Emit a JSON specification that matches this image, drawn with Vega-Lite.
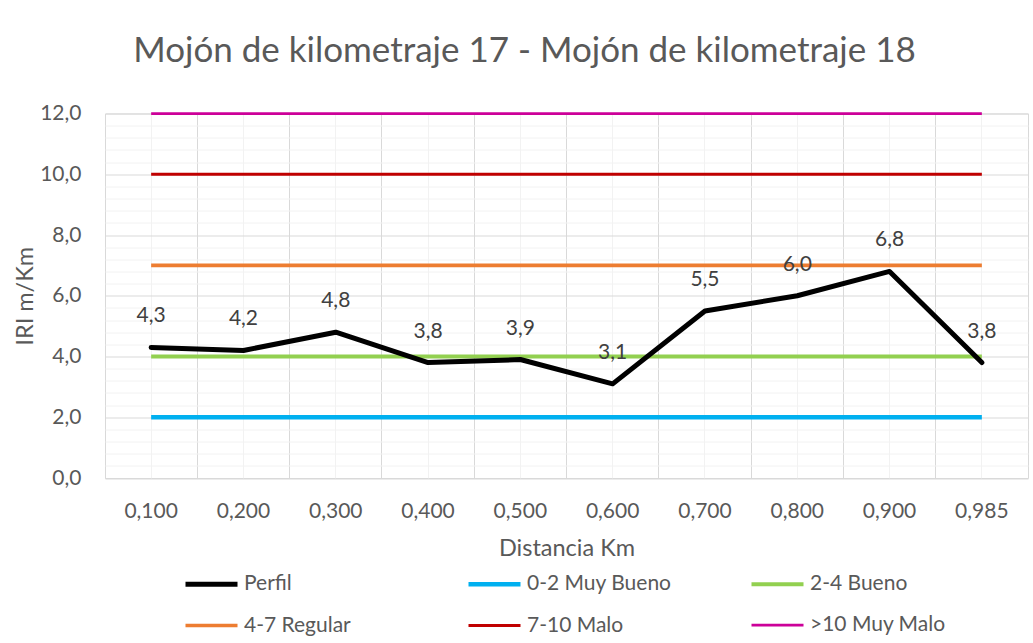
{
  "$schema": "https://vega.github.io/schema/vega-lite/v6.json",
  "width": 923,
  "height": 364.5,
  "autosize": {"type": "none"},
  "padding": {"left": 105, "top": 113.5, "right": 5, "bottom": 165},
  "background": "white",
  "title": {
    "text": "Mojón de kilometraje 17 - Mojón de kilometraje 18",
    "anchor": "middle",
    "frame": "group",
    "dx": -42,
    "offset": 34,
    "fontSize": 35,
    "font": "Lato",
    "fontWeight": "normal",
    "color": "#595959"
  },
  "config": {
    "locale": {"number": {"decimal": ",", "thousands": ".", "grouping": [3], "currency": ["", " €"]}},
    "font": "Lato",
    "view": {"stroke": "#d9d9d9", "strokeWidth": 1}
  },
  "datasets": {
    "perfil": [
      {"d": "0,100", "serie": "Perfil", "v": 4.3},
      {"d": "0,200", "serie": "Perfil", "v": 4.2},
      {"d": "0,300", "serie": "Perfil", "v": 4.8},
      {"d": "0,400", "serie": "Perfil", "v": 3.8},
      {"d": "0,500", "serie": "Perfil", "v": 3.9},
      {"d": "0,600", "serie": "Perfil", "v": 3.1},
      {"d": "0,700", "serie": "Perfil", "v": 5.5},
      {"d": "0,800", "serie": "Perfil", "v": 6.0},
      {"d": "0,900", "serie": "Perfil", "v": 6.8},
      {"d": "0,985", "serie": "Perfil", "v": 3.8}
    ],
    "limites": [
      {"d": "0,100", "serie": "0-2 Muy Bueno", "v": 2},
      {"d": "0,200", "serie": "0-2 Muy Bueno", "v": 2},
      {"d": "0,300", "serie": "0-2 Muy Bueno", "v": 2},
      {"d": "0,400", "serie": "0-2 Muy Bueno", "v": 2},
      {"d": "0,500", "serie": "0-2 Muy Bueno", "v": 2},
      {"d": "0,600", "serie": "0-2 Muy Bueno", "v": 2},
      {"d": "0,700", "serie": "0-2 Muy Bueno", "v": 2},
      {"d": "0,800", "serie": "0-2 Muy Bueno", "v": 2},
      {"d": "0,900", "serie": "0-2 Muy Bueno", "v": 2},
      {"d": "0,985", "serie": "0-2 Muy Bueno", "v": 2},
      {"d": "0,100", "serie": "2-4 Bueno", "v": 4},
      {"d": "0,200", "serie": "2-4 Bueno", "v": 4},
      {"d": "0,300", "serie": "2-4 Bueno", "v": 4},
      {"d": "0,400", "serie": "2-4 Bueno", "v": 4},
      {"d": "0,500", "serie": "2-4 Bueno", "v": 4},
      {"d": "0,600", "serie": "2-4 Bueno", "v": 4},
      {"d": "0,700", "serie": "2-4 Bueno", "v": 4},
      {"d": "0,800", "serie": "2-4 Bueno", "v": 4},
      {"d": "0,900", "serie": "2-4 Bueno", "v": 4},
      {"d": "0,985", "serie": "2-4 Bueno", "v": 4},
      {"d": "0,100", "serie": "4-7 Regular", "v": 7},
      {"d": "0,200", "serie": "4-7 Regular", "v": 7},
      {"d": "0,300", "serie": "4-7 Regular", "v": 7},
      {"d": "0,400", "serie": "4-7 Regular", "v": 7},
      {"d": "0,500", "serie": "4-7 Regular", "v": 7},
      {"d": "0,600", "serie": "4-7 Regular", "v": 7},
      {"d": "0,700", "serie": "4-7 Regular", "v": 7},
      {"d": "0,800", "serie": "4-7 Regular", "v": 7},
      {"d": "0,900", "serie": "4-7 Regular", "v": 7},
      {"d": "0,985", "serie": "4-7 Regular", "v": 7},
      {"d": "0,100", "serie": "7-10 Malo", "v": 10},
      {"d": "0,200", "serie": "7-10 Malo", "v": 10},
      {"d": "0,300", "serie": "7-10 Malo", "v": 10},
      {"d": "0,400", "serie": "7-10 Malo", "v": 10},
      {"d": "0,500", "serie": "7-10 Malo", "v": 10},
      {"d": "0,600", "serie": "7-10 Malo", "v": 10},
      {"d": "0,700", "serie": "7-10 Malo", "v": 10},
      {"d": "0,800", "serie": "7-10 Malo", "v": 10},
      {"d": "0,900", "serie": "7-10 Malo", "v": 10},
      {"d": "0,985", "serie": "7-10 Malo", "v": 10},
      {"d": "0,100", "serie": ">10 Muy Malo", "v": 12},
      {"d": "0,200", "serie": ">10 Muy Malo", "v": 12},
      {"d": "0,300", "serie": ">10 Muy Malo", "v": 12},
      {"d": "0,400", "serie": ">10 Muy Malo", "v": 12},
      {"d": "0,500", "serie": ">10 Muy Malo", "v": 12},
      {"d": "0,600", "serie": ">10 Muy Malo", "v": 12},
      {"d": "0,700", "serie": ">10 Muy Malo", "v": 12},
      {"d": "0,800", "serie": ">10 Muy Malo", "v": 12},
      {"d": "0,900", "serie": ">10 Muy Malo", "v": 12},
      {"d": "0,985", "serie": ">10 Muy Malo", "v": 12}
    ]
  },
  "resolve": {"axis": {"x": "independent", "y": "independent"}},
  "layer": [
    {
      "data": {"name": "limites"},
      "mark": {"type": "line", "strokeCap": "butt"},
      "encoding": {
        "x": {
          "field": "d", "type": "ordinal",
          "scale": {"type": "band", "paddingInner": 0, "paddingOuter": 0},
          "axis": {
            "orient": "bottom",
            "title": null,
            "labels": false,
            "ticks": false,
            "domain": false,
            "grid": true,
            "bandPosition": 0.5,
            "gridColor": "#f2f2f2",
            "gridWidth": 1
          }
        },
        "y": {
          "field": "v", "type": "quantitative",
          "scale": {"domain": [0, 12], "nice": false},
          "axis": {
            "orient": "left",
            "title": null,
            "values": [0.4, 0.8, 1.2, 1.6, 2.4, 2.8, 3.2, 3.6, 4.4, 4.8, 5.2, 5.6, 6.4, 6.8, 7.2, 7.6, 8.4, 8.8, 9.2, 9.6, 10.4, 10.8, 11.2, 11.6],
            "labels": false,
            "ticks": false,
            "domain": false,
            "grid": true,
            "gridColor": "#f2f2f2",
            "gridWidth": 1
          }
        },
        "color": {"field": "serie", "type": "nominal"},
        "strokeWidth": {"field": "serie", "type": "nominal"}
      }
    },
    {
      "data": {"name": "perfil"},
      "mark": {"type": "line", "strokeCap": "round", "strokeJoin": "round"},
      "encoding": {
        "x": {
          "field": "d", "type": "ordinal",
          "scale": {"type": "band", "paddingInner": 0, "paddingOuter": 0},
          "axis": {
            "orient": "bottom",
            "title": "Distancia Km",
            "titleFontSize": 23.5,
            "titleFontWeight": "normal",
            "titleColor": "#595959",
            "titlePadding": 15,
            "labelAngle": 0,
            "labelFontSize": 21,
            "labelColor": "#595959",
            "labelPadding": 22,
            "ticks": false,
            "domain": false,
            "grid": true,
            "bandPosition": 0,
            "gridColor": "#d9d9d9",
            "gridWidth": 1
          }
        },
        "y": {
          "field": "v", "type": "quantitative",
          "axis": {
            "orient": "left",
            "title": "IRI m/Km",
            "titleFontSize": 23.5,
            "titleFontWeight": "normal",
            "titleColor": "#595959",
            "titlePadding": 2,
            "values": [0, 2, 4, 6, 8, 10, 12],
            "format": ".1f",
            "labelFontSize": 21,
            "labelColor": "#595959",
            "labelPadding": 24,
            "ticks": false,
            "domain": false,
            "grid": true,
            "gridColor": "#d9d9d9",
            "gridWidth": 1
          }
        },
        "color": {
          "field": "serie", "type": "nominal",
          "scale": {
            "domain": ["Perfil", "0-2 Muy Bueno", "2-4 Bueno", "4-7 Regular", "7-10 Malo", ">10 Muy Malo"],
            "range": ["#000000", "#00B0F0", "#92D050", "#ED7D31", "#C00000", "#CC0099"]
          },
          "legend": {
            "title": null,
            "orient": "none",
            "legendX": 78,
            "legendY": 442,
            "direction": "horizontal",
            "columns": 3,
            "gridAlign": "all",
            "symbolType": "stroke",
            "symbolSize": 2704,
            "labelFontSize": 21,
            "labelColor": "#595959",
            "labelOffset": 4,
            "columnPadding": 70,
            "rowPadding": 3,
            "labelLimit": 300
          }
        },
        "strokeWidth": {
          "field": "serie", "type": "nominal",
          "scale": {
            "domain": ["Perfil", "0-2 Muy Bueno", "2-4 Bueno", "4-7 Regular", "7-10 Malo", ">10 Muy Malo"],
            "range": [5, 2.75, 2.75, 2.75, 2.75, 2.75]
          }
        }
      }
    },
    {
      "data": {"name": "perfil"},
      "mark": {"type": "text", "dy": -31, "fontSize": 21, "color": "#404040"},
      "encoding": {
        "x": {"field": "d", "type": "ordinal", "axis": null},
        "y": {"field": "v", "type": "quantitative", "axis": null},
        "text": {"field": "v", "type": "quantitative", "format": ".1f"}
      }
    }
  ]
}
